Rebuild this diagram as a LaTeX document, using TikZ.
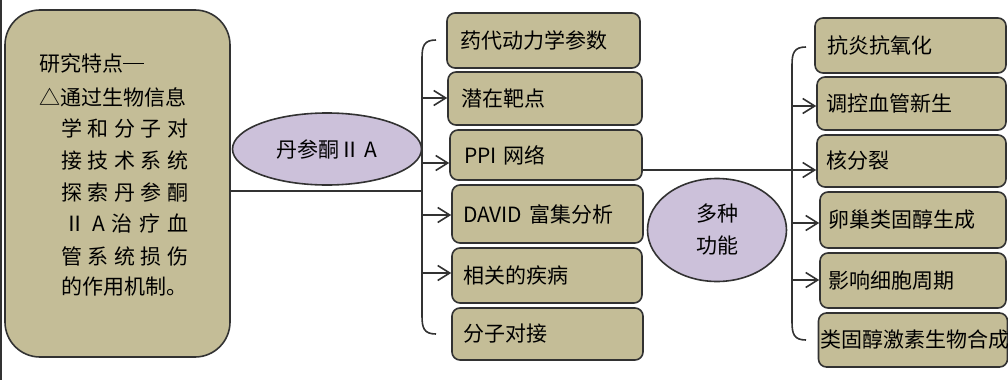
\documentclass[tikz,border=0pt]{standalone}
\usepackage{fontspec}
\setmainfont{Noto Sans CJK SC}
\usetikzlibrary{shapes.geometric,arrows.meta}
\definecolor{tanfill}{RGB}{196,189,151}
\definecolor{lavfill}{RGB}{204,193,218}
\definecolor{edgecol}{RGB}{50,50,50}
\newcommand{\longdash}{\raisebox{0.33em}{\rule{1em}{0.07em}}}
\begin{document}
\begin{tikzpicture}[x=1pt,y=-1pt,
 tbox/.style={draw=edgecol,line width=1.6pt,fill=tanfill,rounded corners=8pt,align=left,font=\fontsize{21}{25}\selectfont,inner ysep=0pt},
 oval/.style={ellipse,draw=edgecol,line width=1.6pt,fill=lavfill,inner sep=0pt,align=center,font=\fontsize{21}{32}\selectfont},
 conn/.style={draw=edgecol,line width=1.6pt},
 arr/.style={conn,-{Straight Barb[length=12pt,width=15pt,line width=1.6pt]}},
 ltext/.style={anchor=west,inner sep=0pt,font=\fontsize{21}{25}\selectfont}]
\useasboundingbox (0,0) rectangle (1008,380);
\draw[edgecol,line width=1.5pt] (0.75,0) -- (0.75,380);
% left box
\node[draw=edgecol,line width=1.6pt,fill=tanfill,rounded corners=35pt,minimum width=225pt,minimum height=347pt,inner sep=0pt] (L) at (117.5,183.5) {};
\node[ltext] (l1) at (39,63) {研究特点\longdash};
\node[ltext] (l2) at (39,97) {△通过生物信息};
\node[ltext] (l3) at (61,128) {\makebox[127pt][s]{学 和 分 子 对}};
\node[ltext] (l4) at (61,160) {\makebox[127pt][s]{接 技 术 系 统}};
\node[ltext] (l5) at (61,192) {\makebox[127pt][s]{探 索 丹 参 酮}};
\node[ltext] (l6) at (64,223) {\makebox[124pt][s]{Ⅱ A 治 疗 血}};
\node[ltext] (l7) at (61,257) {\makebox[127pt][s]{管 系 统 损 伤}};
\node[ltext] (l8) at (61,287) {的作用机制。};
% ellipses
\node[oval,minimum width=189pt,minimum height=72pt] (e1) at (327,149) {丹参酮Ⅱ A};
\node[oval,minimum width=139pt,minimum height=103pt] (e2) at (717,230) {多种\\功能};
% middle boxes
\node[tbox,inner xsep=13pt,text width=167pt,minimum height=55pt] (m1) at (543.5,40.5) {药代动力学参数};
\node[tbox,inner xsep=13pt,text width=168pt,minimum height=53pt] (m2) at (545,98.5) {潜在靶点};
\node[tbox,inner xsep=14pt,text width=164pt,minimum height=50pt] (m3) at (546,155) {PPI 网络};
\node[tbox,inner xsep=11pt,text width=169pt,minimum height=58pt] (m4) at (547.5,214) {DAVID 富集分析};
\node[tbox,inner xsep=11pt,text width=168pt,minimum height=55pt] (m5) at (547,275.5) {相关的疾病};
\node[tbox,inner xsep=11pt,text width=169pt,minimum height=52pt] (m6) at (547.5,334) {分子对接};
% right boxes
\node[tbox,inner xsep=12pt,text width=167pt,minimum height=55pt] (r1) at (910.5,45.5) {抗炎抗氧化};
\node[tbox,inner xsep=9pt,text width=171pt,minimum height=53pt] (r2) at (911.5,103.5) {调控血管新生};
\node[tbox,inner xsep=9pt,text width=171pt,minimum height=52pt] (r3) at (911.5,161) {核分裂};
\node[tbox,inner xsep=8pt,text width=170pt,minimum height=56pt] (r4) at (913,220) {卵巢类固醇生成};
\node[tbox,inner xsep=8pt,text width=170pt,minimum height=55pt] (r5) at (913,280.5) {影响细胞周期};
\node[tbox,inner xsep=2pt,text width=185pt,minimum height=54pt] (r6) at (913,340) {类固醇激素生物合成};
% bracket 1
\coordinate (b1t) at (436,40);
\coordinate (b1b) at (436,334);
\draw[conn] (b1t) .. controls (424,40) and (422,46) .. (422,58) -- (422,316) .. controls (422,328) and (424,334) .. (b1b);
\coordinate (j1) at (422,191);
\draw[conn] (L.east |- j1) -- (j1);
\coordinate (a1) at (422,98);
\coordinate (a2) at (422,163);
\coordinate (a3) at (422,215);
\coordinate (a4) at (422,273);
\draw[arr] (a1) -- (a1 -| m2.west);
\draw[arr] (a2) -- (a2 -| m3.west);
\draw[arr] (a3) -- (a3 -| m4.west);
\draw[arr] (a4) -- (a4 -| m5.west);
% bracket 2
\coordinate (b2t) at (806,47);
\coordinate (b2b) at (806,340);
\draw[conn] (b2t) .. controls (794,47) and (792,53) .. (792,65) -- (792,322) .. controls (792,334) and (794,340) .. (b2b);
\coordinate (p1) at (642,170);
\draw[arr] (m3.east |- p1) -- (r3.west |- p1);
\coordinate (c1) at (792,106);
\coordinate (c2) at (792,223);
\coordinate (c3) at (792,280);
\draw[arr] (c1) -- (c1 -| r2.west);
\draw[arr] (c2) -- (c2 -| r4.west);
\draw[arr] (c3) -- (c3 -| r5.west);
\end{tikzpicture}
\end{document}
